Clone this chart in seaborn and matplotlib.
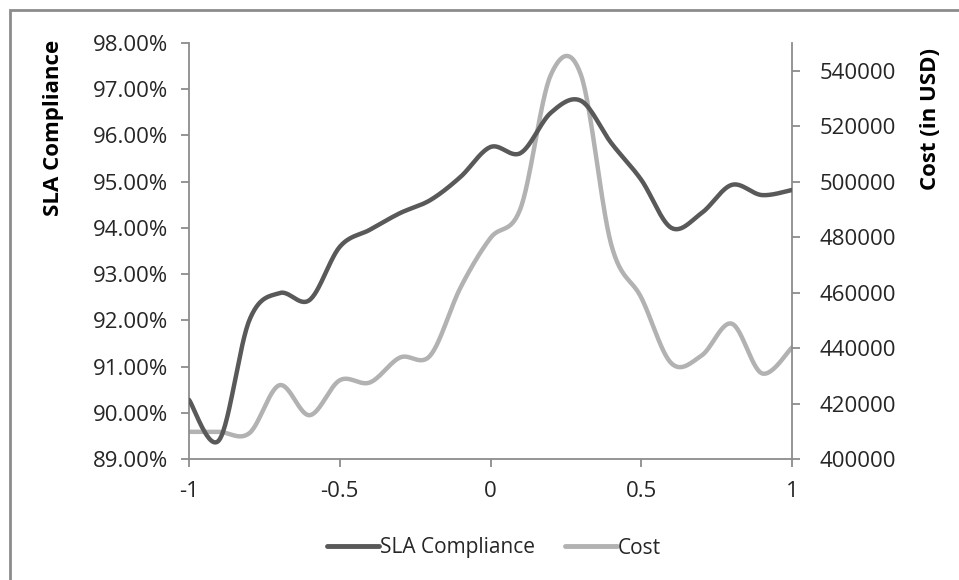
import numpy as np
import pandas as pd
import matplotlib
matplotlib.use("Agg")
from matplotlib import pyplot
import matplotlib.ticker as ticker
from matplotlib.patches import Rectangle
from matplotlib.lines import Line2D
import seaborn as sns

# values
x_vals = [-1.0, -0.9, -0.8, -0.7, -0.6, -0.5, -0.4, -0.3, -0.2, -0.1, 0.0,
          0.1, 0.2, 0.3, 0.4, 0.5, 0.6, 0.7, 0.8, 0.9, 1.0]
sla_pct = [90.28, 89.41, 92.0, 92.59, 92.44, 93.59, 93.96, 94.32, 94.6, 95.1, 95.75,
           95.62, 96.49, 96.75, 95.84, 95.04, 94.0, 94.32, 94.93, 94.71, 94.82]
cost_usd = [409800, 409800, 409300, 426600, 415800, 428400, 427600, 436600, 437300, 461700, 479700,
            490500, 538500, 538500, 477500, 458200, 434500, 437300, 448800, 430900, 440200]
left_ticks = [89, 90, 91, 92, 93, 94, 95, 96, 97, 98]
right_ticks = [400000, 420000, 440000, 460000, 480000, 500000, 520000, 540000]
x_ticks = [-1, -0.5, 0, 0.5, 1]

DARK = '#595959'
LIGHT = '#b2b2b2'
AXC = '#8c8c8c'
TXT = '#262626'
FS = 16


def Smooth(xs, ys, n=30):
	# excel style smoothed line (catmull-rom bezier through the points)
	px = np.array(xs, dtype=float)
	py = np.array(ys, dtype=float)
	px = np.concatenate([[px[0]], px, [px[-1]]])
	py = np.concatenate([[py[0]], py, [py[-1]]])
	outX, outY = [], []
	t = np.linspace(0, 1, n, endpoint=False)
	for i in range(1, len(px) - 2):
		p0 = np.array([px[i], py[i]])
		p3 = np.array([px[i + 1], py[i + 1]])
		c1 = p0 + (np.array([px[i + 1], py[i + 1]]) - np.array([px[i - 1], py[i - 1]])) / 6
		c2 = p3 - (np.array([px[i + 2], py[i + 2]]) - np.array([px[i], py[i]])) / 6
		b = ((1 - t) ** 3)[:, None] * p0 + (3 * (1 - t) ** 2 * t)[:, None] * c1 \
			+ (3 * (1 - t) * t ** 2)[:, None] * c2 + (t ** 3)[:, None] * p3
		outX.extend(b[:, 0])
		outY.extend(b[:, 1])
	outX.append(px[-1])
	outY.append(py[-1])
	return np.array(outX), np.array(outY)


sns.set_style("white")
pyplot.rcParams['font.family'] = ['Open Sans', 'DejaVu Sans']

fig = pyplot.figure(figsize=(9.59, 5.8), dpi=100)
ax = fig.add_axes([189 / 959, 1 - 459 / 580, (792 - 189) / 959, (459 - 43) / 580])
ax2 = ax.twinx()

sx, sy = Smooth(x_vals, sla_pct)
cx, cy = Smooth(x_vals, cost_usd)
sns.lineplot(x=sx, y=sy, ax=ax, color=DARK, linewidth=3.2, sort=False, zorder=3)
sns.lineplot(x=cx, y=cy, ax=ax2, color=LIGHT, linewidth=3.2, sort=False, zorder=2)

ax.set_zorder(ax2.get_zorder() + 1)
ax.patch.set_visible(False)

ax.set_xlim(-1, 1)
ax.set_ylim(89, 98)
ax2.set_ylim(400000, 550000)
ax.set_xticks(x_ticks)
ax.xaxis.set_major_formatter(ticker.FuncFormatter(lambda v, p: '{:g}'.format(v)))
ax.set_yticks(left_ticks)
ax.yaxis.set_major_formatter(ticker.FuncFormatter(lambda v, p: '{:.2f}%'.format(v)))
ax2.set_yticks(right_ticks)
ax2.yaxis.set_major_formatter(ticker.FuncFormatter(lambda v, p: '{:d}'.format(int(v))))

for a in (ax, ax2):
	for s in a.spines.values():
		s.set_visible(False)
ax.spines['left'].set_visible(True)
ax.spines['bottom'].set_visible(True)
ax2.spines['right'].set_visible(True)
for s in (ax.spines['left'], ax.spines['bottom'], ax2.spines['right']):
	s.set_color(AXC)
	s.set_linewidth(1.3)

ax.tick_params(axis='x', direction='out', length=6, width=1.3, color=AXC, pad=10,
			   labelsize=FS, labelcolor=TXT, bottom=True)
ax.tick_params(axis='y', direction='out', length=6, width=1.3, color=AXC, pad=9,
			   labelsize=FS, labelcolor=TXT, left=True)
ax2.tick_params(axis='y', direction='out', length=6, width=1.3, color=AXC, pad=14,
				labelsize=FS, labelcolor=TXT, right=True)

ax.set_ylabel('SLA Compliance', fontsize=16, fontweight='bold', color='black')
ax.yaxis.set_label_coords(-0.207, 0.796)
ax2.set_ylabel('Cost (in USD)', fontsize=16, fontweight='bold', color='black')
ax2.yaxis.set_label_coords(1.212, 0.817)

handles = [Line2D([], [], color=DARK, linewidth=3.5), Line2D([], [], color=LIGHT, linewidth=3.5)]
fig.legend(handles, ['SLA Compliance', 'Cost'], loc='center', bbox_to_anchor=(494 / 959, 1 - 548 / 580),
		   ncol=2, frameon=False, fontsize=15, handlelength=2.5, handletextpad=0.05,
		   columnspacing=1.4, labelcolor=TXT)

# chart area border
fig.patches.append(Rectangle((10 / 959, -0.1), 1.2, 1 - 10 / 580 + 0.1, transform=fig.transFigure,
							 fill=False, edgecolor=AXC, linewidth=2))

pyplot.savefig('out.png', dpi=100)
